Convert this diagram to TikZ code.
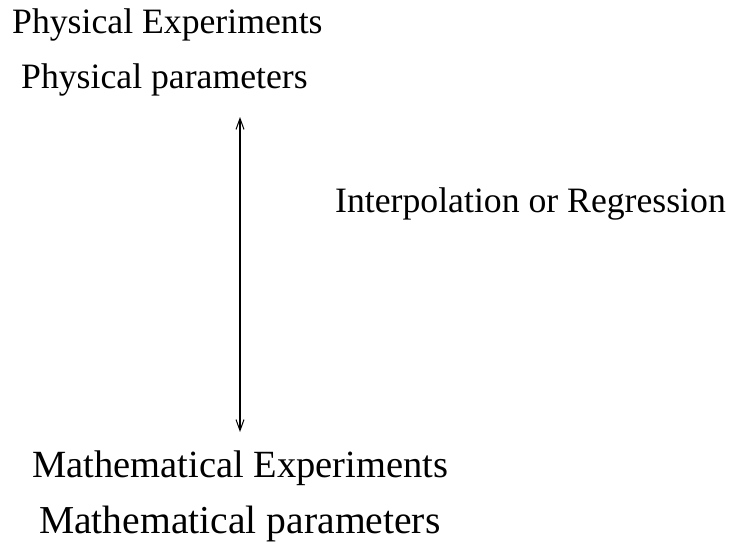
\documentclass[tikz,border=0pt]{standalone}
\usepackage{fontspec}
\setmainfont{Liberation Serif}
\usepackage{tikz}
\usetikzlibrary{arrows.meta}

\begin{document}
\begin{tikzpicture}[x=1pt,y=-1pt]
\useasboundingbox (0,0) rectangle (730,546);
\begin{scope}[every node/.style={anchor=base west,inner sep=0pt,font=\fontsize{35.7}{42}\selectfont}]
    \node (pe) at (12,33.5) {Physical Experiments};
    \node (pp) at (21,88) {Physical parameters};
    \node (ir) at (335,212) {Interpolation or Regression};
\end{scope}
\begin{scope}[every node/.style={anchor=base west,inner sep=0pt,font=\fontsize{38.5}{45}\selectfont}]
    \node (me) at (32,477) {Mathematical Experiments};
    \node[font=\fontsize{39.6}{46}\selectfont] (mp) at (39,533) {Mathematical parameters};
\end{scope}

\coordinate (top) at (240,117);
\coordinate (bot) at (240,432);

\begin{scope}[>={Straight Barb[length=11pt,width=8pt,line width=1pt]}]
    \draw [<->,line width=1.2pt] (top) -- (bot);
\end{scope}
\end{tikzpicture}
\end{document}
